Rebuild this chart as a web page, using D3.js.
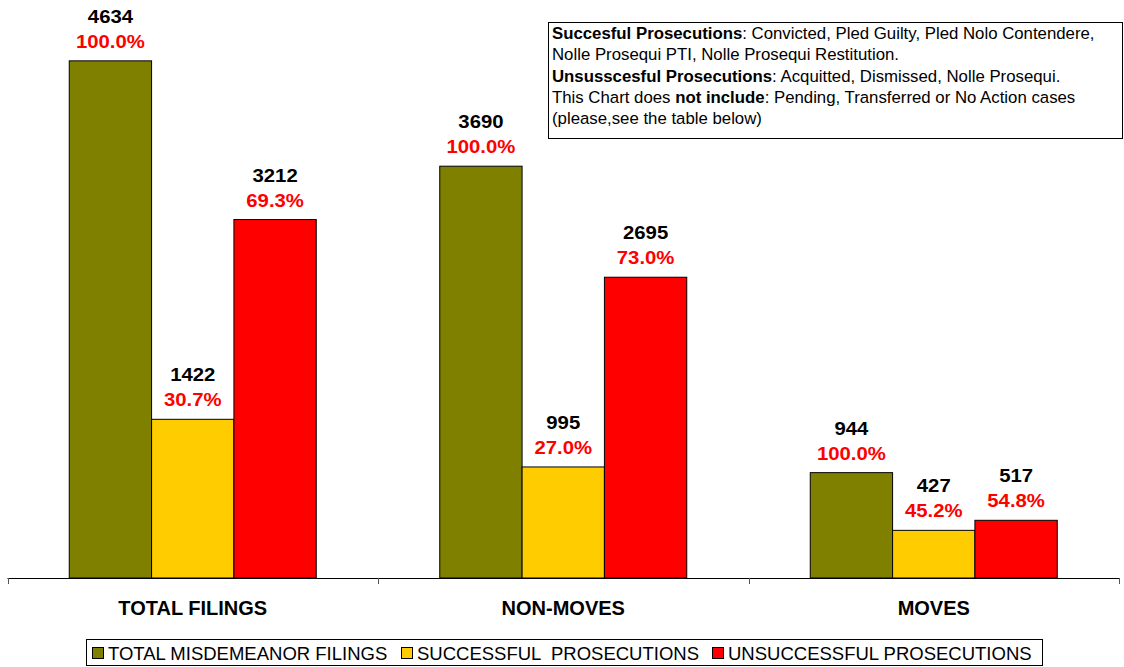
<!DOCTYPE html>
<html><head><meta charset="utf-8">
<script src="https://cdn.jsdelivr.net/npm/d3@7"></script>
<style>body{margin:0;background:#fff;} svg{display:block;font-family:Arial,"Liberation Sans",sans-serif;}</style>
</head><body>
<svg id="chart" width="1124" height="667"></svg>
<script>
const categories = ["TOTAL FILINGS", "NON-MOVES", "MOVES"];
const seriesNames = ["TOTAL MISDEMEANOR FILINGS", "SUCCESSFUL  PROSECUTIONS", "UNSUCCESSFUL PROSECUTIONS"];
const totalFilings = [4634, 3690, 944];
const successful = [1422, 995, 427];
const unsuccessful = [3212, 2695, 517];
const percentLabels = [
  ["100.0%", "30.7%", "69.3%"],
  ["100.0%", "27.0%", "73.0%"],
  ["100.0%", "45.2%", "54.8%"]
];
const colors = ["#808000", "#FFCC00", "#FF0000"];
const noteLines = [
  [["Succesful Prosecutions", true], [": Convicted, Pled Guilty, Pled Nolo Contendere,", false]],
  [["Nolle Prosequi PTI, Nolle Prosequi Restitution.", false]],
  [["Unsusscesful Prosecutions", true], [": Acquitted, Dismissed, Nolle Prosequi.", false]],
  [["This Chart does ", false], ["not include", true], [": Pending, Transferred or No Action cases", false]],
  [["(please,see the table below)", false]]
];

const svg = d3.select("#chart");
const values = [totalFilings, successful, unsuccessful];

const x0 = d3.scaleBand().domain(categories).range([7.5, 1119]).paddingInner(0).paddingOuter(0);
const x1 = d3.scaleBand().domain(seriesNames).range([0, x0.bandwidth()]).paddingInner(0).paddingOuter(0.75);
const y = d3.scaleLinear().domain([0, 5000]).range([578, 20]);

function label(g, x, yy, txt, color) {
  g.append("text").attr("transform", `translate(${x},${yy}) scale(1.07,1)`)
    .attr("text-anchor", "middle").attr("font-weight", "bold").attr("font-size", 19)
    .attr("fill", color).text(txt);
}

const groups = svg.append("g").selectAll("g").data(categories).join("g")
  .attr("transform", d => `translate(${x0(d)},0)`);

groups.each(function(cat, ci) {
  const g = d3.select(this);
  seriesNames.forEach((s, si) => {
    const v = values[si][ci];
    const bx = x1(s), bw = x1.bandwidth();
    g.append("rect").attr("x", bx).attr("y", y(v)).attr("width", bw).attr("height", y(0) - y(v))
      .attr("fill", colors[si]).attr("stroke", "#000").attr("stroke-width", 1);
    label(g, bx + bw / 2, y(v) - 38, v, "#000");
    label(g, bx + bw / 2, y(v) - 13, percentLabels[ci][si], "#FF0000");
  });
});

// x axis
const axis = svg.append("g").attr("transform", `translate(0,${y(0)})`)
  .call(d3.axisBottom(x0).tickSize(0).tickPadding(0));
axis.select(".domain").remove();
axis.selectAll(".tick text").remove();
axis.append("line").attr("x1", 7.5).attr("x2", 1119).attr("y1", 0.5).attr("y2", 0.5).attr("stroke", "#000");
const edges = categories.map(c => x0(c)).concat([x0(categories[categories.length - 1]) + x0.bandwidth()]);
axis.selectAll("line.edge").data(edges).join("line").attr("class", "edge")
  .attr("x1", d => Math.round(d) + 0.5).attr("x2", d => Math.round(d) + 0.5).attr("y1", 0).attr("y2", 6).attr("stroke", "#555");
axis.selectAll("text.cat").data(categories).join("text").attr("class", "cat")
  .attr("x", d => x0(d) + x0.bandwidth() / 2).attr("y", 37).attr("text-anchor", "middle")
  .attr("font-weight", "bold").attr("font-size", 20).attr("fill", "#000").text(d => d);

// note box
const note = svg.append("g");
note.append("rect").attr("x", 548.5).attr("y", 22.5).attr("width", 574).attr("height", 116)
  .attr("fill", "#fff").attr("stroke", "#000");
noteLines.forEach((line, i) => {
  const t = note.append("text").attr("x", 552).attr("y", 39 + i * 21.3).attr("font-size", 16.8).attr("fill", "#000");
  line.forEach(([txt, b]) => t.append("tspan").attr("font-weight", b ? "bold" : "normal").text(txt));
});

// legend
const leg = svg.append("g");
leg.append("rect").attr("x", 86.5).attr("y", 639.5).attr("width", 956).attr("height", 26)
  .attr("fill", "#fff").attr("stroke", "#000");
const legX = [92, 401, 712];
seriesNames.forEach((s, i) => {
  leg.append("rect").attr("x", legX[i] + 0.5).attr("y", 647.5).attr("width", 11).attr("height", 11)
    .attr("fill", colors[i]).attr("stroke", "#000");
  leg.append("text").attr("x", legX[i] + 16).attr("y", 659.5).attr("font-size", 18.5).attr("fill", "#000")
    .style("white-space", "pre").text(s);
});
</script>
</body></html>
